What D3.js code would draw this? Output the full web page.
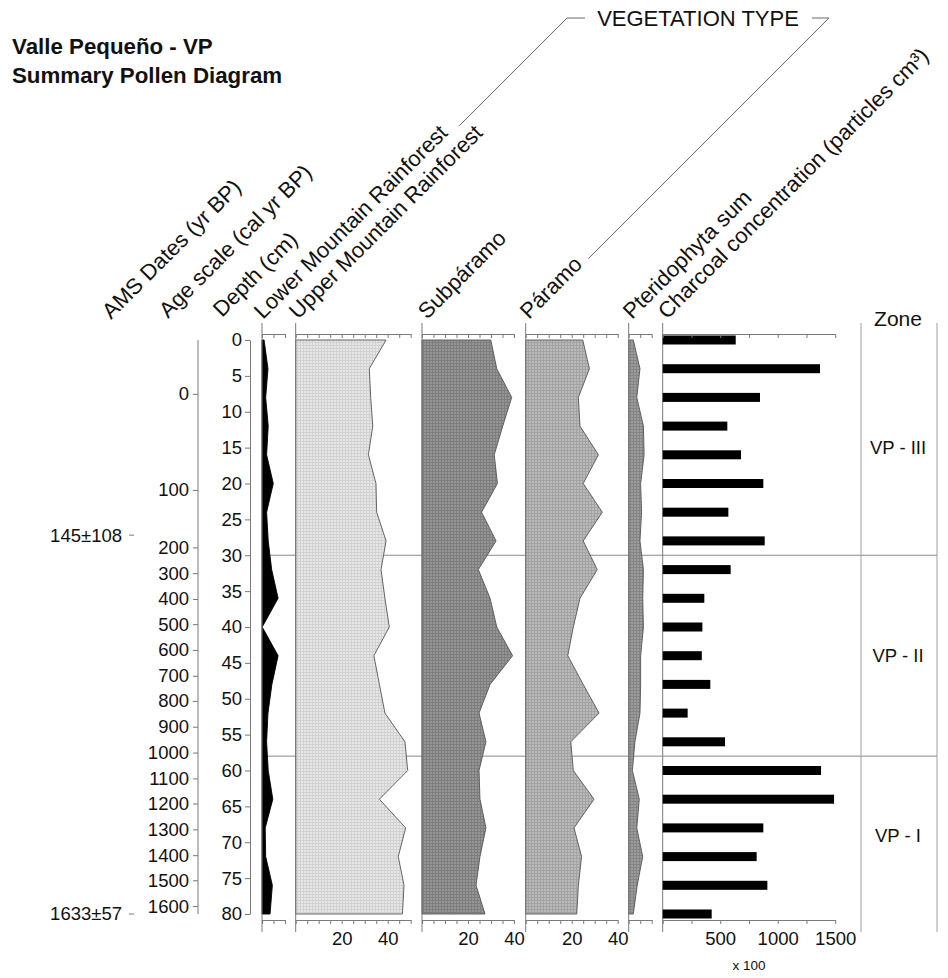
<!DOCTYPE html>
<html><head><meta charset="utf-8">
<script src="https://cdn.jsdelivr.net/npm/d3@7/dist/d3.min.js"></script>
<style>
body{margin:0;background:#fff}
svg text{font-family:"Liberation Sans",Arial,Helvetica,sans-serif;fill:#111}
</style>
</head><body>
<svg id="chart" width="948" height="978"></svg>
<script>
// ---------------- DATA ----------------
const depths = [0,4,8,12,16,20,24,28,32,36,40,44,48,52,56,60,64,68,72,76,80];
const lowerMontane = [0.9,2.6,1.6,2.7,2.0,4.9,2.0,2.7,4.2,7.0,0.1,7.0,4.3,2.6,2.0,2.7,4.7,1.4,1.6,4.5,3.5];
const upperMontane = [39.3,32.0,32.6,33.5,31.6,34.9,35.2,39.3,37.1,38.8,40.7,34.0,36.4,38.8,47.5,48.7,36.4,47.8,44.6,47.1,46.4];
const subparamo = [29.9,32.5,39.0,35.1,31.4,32.8,25.9,32.2,24.5,29.6,32.5,39.4,29.6,24.8,27.8,24.8,25.2,27.8,25.2,23.5,27.4];
const paramo = [24.8,27.7,22.9,23.6,31.6,25.0,33.3,25.0,31.1,23.6,20.7,18.3,25.0,31.9,19.6,20.7,29.7,21.0,24.3,22.9,22.2];
const pteridophyta = [2.0,4.9,3.5,6.4,6.7,5.2,5.6,4.9,6.4,6.1,6.4,5.2,5.2,4.9,2.7,1.6,4.6,3.5,6.1,3.7,2.0];
const charcoal = [635,1368,846,562,681,875,571,887,591,362,345,340,414,217,542,1377,1490,875,817,910,426];

const depthTicks = [0,5,10,15,20,25,30,35,40,45,50,55,60,65,70,75,80];
const ageTicks = [0,100,200,300,400,500,600,700,800,900,1000,1100,1200,1300,1400,1500,1600];
const ageTickDepths = [7.5,20.9,28.9,32.5,36.1,39.6,43.2,46.8,50.3,53.9,57.5,61.1,64.6,68.2,71.8,75.3,78.9];
const amsLabels = ["145±108","1633±57"];
const amsDepths = [27.2,80];
const zoneNames = ["VP - III","VP - II","VP - I"];
const zoneBounds = [0,30,58,80];
const charcoalTicks = [0,250,500,750,1000,1250,1500];
const charcoalLabels = [500,1000,1500];
const percentLabels = [20,40];

const titleLines = ["Valle Pequeño - VP","Summary Pollen Diagram"];
const groupTitle = "VEGETATION TYPE";
const headerAMS = "AMS Dates (yr BP)";
const headerAge = "Age scale (cal yr BP)";
const headerDepth = "Depth (cm)";
const headerLMR = "Lower Mountain Rainforest";
const headerUMR = "Upper Mountain Rainforest";
const headerSub = "Subpáramo";
const headerPar = "Páramo";
const headerPter = "Pteridophyta sum";
const headerChar = "Charcoal concentration (particles cm³)";
const zoneTitle = "Zone";
const charcoalUnit = "x 100";

// ---------------- LAYOUT ----------------
const svg = d3.select("#chart");
const y = d3.scaleLinear().domain([0,80]).range([340,914]);
const topAxisY = 334, botAxisY = 920, panelTop = 323, panelBot = 932;
const axisColor = "#7a7a7a";
const pxPerPct = 2.3;
const tickFont = "18.5px";
const headFont = "22px";

const defs = svg.append("defs");
function makePattern(id, base, line){
  const p = defs.append("pattern").attr("id",id).attr("width",3).attr("height",3).attr("patternUnits","userSpaceOnUse");
  p.append("rect").attr("width",3).attr("height",3).attr("fill",base);
  p.append("rect").attr("width",1).attr("height",3).attr("fill",line);
  p.append("rect").attr("width",3).attr("height",1).attr("fill",line);
}
makePattern("pUMR","#e6e6e6","#d2d2d2");
makePattern("pSub","#959595","#7e7e7e");
makePattern("pPar","#bababa","#a3a3a3");
makePattern("pPter","#9c9c9c","#858585");

const panels = [
  {values: lowerMontane, max: 10, x0: 262, fill: "#000", stroke:"#000", labels: []},
  {values: upperMontane, max: 50, x0: 295.7, fill: "url(#pUMR)", stroke:"#555", labels: percentLabels},
  {values: subparamo, max: 40, x0: 422, fill: "url(#pSub)", stroke:"#555", labels: percentLabels},
  {values: paramo, max: 40, x0: 525.7, fill: "url(#pPar)", stroke:"#555", labels: percentLabels},
  {values: pteridophyta, max: 10, x0: 628.7, fill: "url(#pPter)", stroke:"#555", labels: []}
];

function styleAxis(a){
  a.selectAll("path,line").attr("stroke",axisColor);
  a.selectAll("text").style("font-size",tickFont).attr("fill","#111").style("font-family",null);
}

// Title
svg.append("g").selectAll("text").data(titleLines).join("text")
  .attr("x",12).attr("y",(d,i)=>54+i*29)
  .style("font-size","22.3px").style("font-weight","bold").text(d=>d);

// Zone horizontal lines (under fills)
const zoneColX0 = 861, zoneColX1 = 937;
svg.append("g").selectAll("line").data(zoneBounds.slice(1,-1)).join("line")
  .attr("x1",262).attr("x2",zoneColX1).attr("y1",d=>y(d)).attr("y2",d=>y(d))
  .attr("stroke","#8a8a8a").attr("stroke-width",1);

// Percentage panels
panels.forEach(p=>{
  const x = d3.scaleLinear().domain([0,p.max]).range([p.x0, p.x0 + p.max*pxPerPct]);
  const g = svg.append("g");
  const pts = depths.map((d,i)=>({d, v:p.values[i]}));
  const area = d3.area().y(e=>y(e.d)).x0(x(0)).x1(e=>x(e.v));
  g.append("path").datum(pts).attr("d",area).attr("fill",p.fill)
    .attr("stroke",p.stroke).attr("stroke-width",0.9).attr("stroke-linejoin","miter");
  g.append("line").attr("x1",x(0)).attr("x2",x(0)).attr("y1",panelTop).attr("y2",panelBot)
    .attr("stroke",axisColor);
  const tv = d3.range(0,p.max+0.001,5);
  const gt = g.append("g").attr("transform",`translate(0,${topAxisY})`)
    .call(d3.axisBottom(x).tickValues(tv).tickSize(4).tickSizeOuter(0).tickFormat(""));
  const gb = g.append("g").attr("transform",`translate(0,${botAxisY})`)
    .call(d3.axisBottom(x).tickValues(tv).tickSize(4).tickSizeOuter(0).tickPadding(8)
      .tickFormat(d=>p.labels.includes(d)?d:""));
  styleAxis(gt); styleAxis(gb);
});

// Charcoal bars
const xc = d3.scaleLinear().domain([0,1500]).range([662.7,835.2]);
const gc = svg.append("g");
gc.append("line").attr("x1",xc(0)).attr("x2",xc(0)).attr("y1",panelTop).attr("y2",panelBot).attr("stroke",axisColor);
gc.selectAll("rect").data(depths.map((d,i)=>({d,v:charcoal[i]}))).join("rect")
  .attr("x",xc(0)).attr("y",e=>y(e.d)-4.5).attr("height",9).attr("width",e=>xc(e.v)-xc(0)).attr("fill","#000");
const ct = gc.append("g").attr("transform",`translate(0,${topAxisY})`)
  .call(d3.axisBottom(xc).tickValues(charcoalTicks).tickSize(4).tickSizeOuter(0).tickFormat(""));
const cb = gc.append("g").attr("transform",`translate(0,${botAxisY})`)
  .call(d3.axisBottom(xc).tickValues(charcoalTicks).tickSize(4).tickSizeOuter(0).tickPadding(8)
    .tickFormat(d=>charcoalLabels.includes(d)?d3.format("d")(d):""));
styleAxis(ct); styleAxis(cb);
gc.append("text").attr("x",749).attr("y",970).attr("text-anchor","middle").style("font-size","13.5px").text(charcoalUnit);

// Depth axis
const gd = svg.append("g").attr("transform","translate(250,0)")
  .call(d3.axisLeft(y).tickValues(depthTicks).tickSize(5).tickSizeOuter(0).tickPadding(3));
styleAxis(gd);

// Age axis
const ageY = d3.scaleLinear().domain(ageTicks).range(ageTickDepths.map(d=>y(d)));
const ga = svg.append("g").attr("transform","translate(198,0)")
  .call(d3.axisLeft(ageY).tickValues(ageTicks).tickSize(5).tickSizeOuter(0).tickPadding(4)
    .tickFormat(d3.format("d")));
ga.select(".domain").remove();
ga.append("line").attr("x1",0).attr("x2",0).attr("y1",y(0)).attr("y2",y(80));
styleAxis(ga);

// AMS dates
const gm = svg.append("g");
gm.selectAll("text").data(amsLabels).join("text")
  .attr("x",122).attr("y",(d,i)=>y(amsDepths[i])).attr("dy","0.35em")
  .attr("text-anchor","end").style("font-size",tickFont).text(d=>d);
gm.selectAll("line").data(amsDepths).join("line")
  .attr("x1",129).attr("x2",134).attr("y1",d=>y(d)).attr("y2",d=>y(d)).attr("stroke",axisColor);

// Zone column
svg.append("g").selectAll("line").data([zoneColX0,zoneColX1]).join("line")
  .attr("x1",d=>d).attr("x2",d=>d).attr("y1",panelTop).attr("y2",panelBot).attr("stroke","#a0a0a0");
svg.append("text").attr("x",898).attr("y",326).attr("text-anchor","middle").style("font-size","21px").text(zoneTitle);
svg.append("g").selectAll("text").data(zoneNames).join("text")
  .attr("x",898).attr("y",(d,i)=>y((zoneBounds[i]+zoneBounds[i+1])/2)).attr("dy","0.35em")
  .attr("text-anchor","middle").style("font-size",tickFont).text(d=>d);

// Rotated headers
const headers = [
  {t: headerAMS, x: 111, y: 320},
  {t: headerAge, x: 168, y: 319},
  {t: headerDepth, x: 222, y: 318},
  {t: headerLMR, x: 263, y: 320, key:"lmr"},
  {t: headerUMR, x: 298, y: 320},
  {t: headerSub, x: 427, y: 320},
  {t: headerPar, x: 529, y: 320, key:"par"},
  {t: headerPter, x: 632, y: 320},
  {t: headerChar, x: 667, y: 320}
];
const hs = svg.append("g").selectAll("text").data(headers).join("text")
  .attr("x",d=>d.x).attr("y",d=>d.y).attr("transform",d=>`rotate(-45,${d.x},${d.y})`)
  .style("font-size",headFont).text(d=>d.t);

// Vegetation type bracket
const c45 = Math.SQRT1_2;
const apexY = 18, leftApexX = 567, rightApexX = 829;
function legStart(key, gap, apexX){
  const h = headers.find(d=>d.key===key);
  const L = hs.filter(d=>d.key===key).node().getComputedTextLength();
  const ey = h.y - (L+gap)*c45 - 4;
  return [apexX - (ey - apexY), ey];
}
const gv = svg.append("g").attr("fill","none").attr("stroke","#6a6a6a").attr("stroke-width",1);
gv.append("path").attr("d",d3.line()([legStart("lmr",6,leftApexX),[leftApexX,apexY],[leftApexX+18,apexY]]));
gv.append("path").attr("d",d3.line()([legStart("par",4,rightApexX),[rightApexX,apexY],[rightApexX-17,apexY]]));
svg.append("text").attr("x",698).attr("y",26).attr("text-anchor","middle")
  .style("font-size",headFont).text(groupTitle);
</script>
</body></html>
